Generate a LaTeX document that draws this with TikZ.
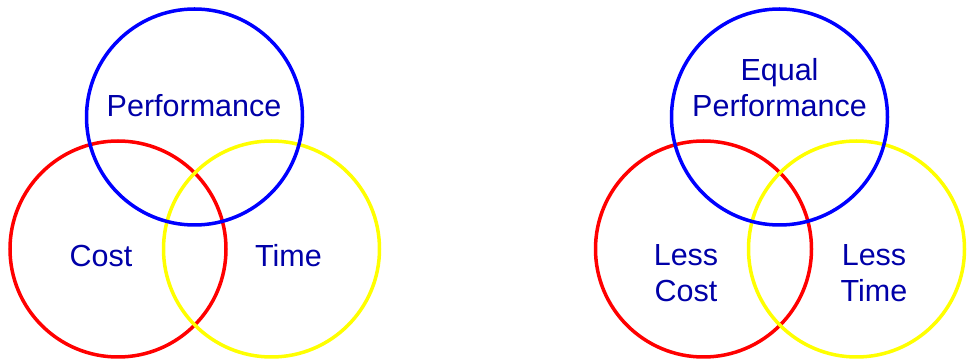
\documentclass[tikz,border=0pt]{standalone}
\usepackage{fontspec}
\setmainfont{Liberation Sans}
\usepackage{tikz}
\usetikzlibrary{positioning}
\definecolor{perfblue}{HTML}{0000FF}
\definecolor{costred}{HTML}{FF0000}
\definecolor{timeyellow}{HTML}{FFFF00}
\definecolor{labelnavy}{HTML}{0000A8}

\begin{document}
\begin{tikzpicture}[
  x=1pt,y=1pt,
  ring/.style={circle,minimum size=216pt,inner sep=0pt,line width=3.5pt},
  ringblue/.style={ring,draw=perfblue},
  ringred/.style={ring,draw=costred},
  ringyellow/.style={ring,draw=timeyellow},
  lbl/.style={text=labelnavy,align=center,inner sep=0pt,
    font=\fontsize{30.5}{36}\selectfont}
]
\useasboundingbox (0,0) rectangle (967,361);
% present situation
\node[ringred] (costL) at (118,112) {};
\node[ringyellow] (timeL) at (271.5,112) {};
\node[ringblue] (perfL) at (194.5,244) {};
\node[lbl,anchor=base] (perfLtxt) at (194,244) {Performance};
\node[lbl,anchor=base] (costLtxt) at (101,94) {Cost};
\node[lbl,anchor=base] (timeLtxt) at (288.5,94) {Time};

% goal
\node[ringred] (costR) at (703.5,112) {};
\node[ringyellow] (timeR) at (856.5,112) {};
\node[ringblue] (perfR) at (779.5,244) {};
\node[lbl] (perfRtxt) at (779.5,273) {Equal\\Performance};
\node[lbl] (costRtxt) at (686,88) {Less\\Cost};
\node[lbl] (timeRtxt) at (874,88) {Less\\Time};
\end{tikzpicture}
\end{document}
